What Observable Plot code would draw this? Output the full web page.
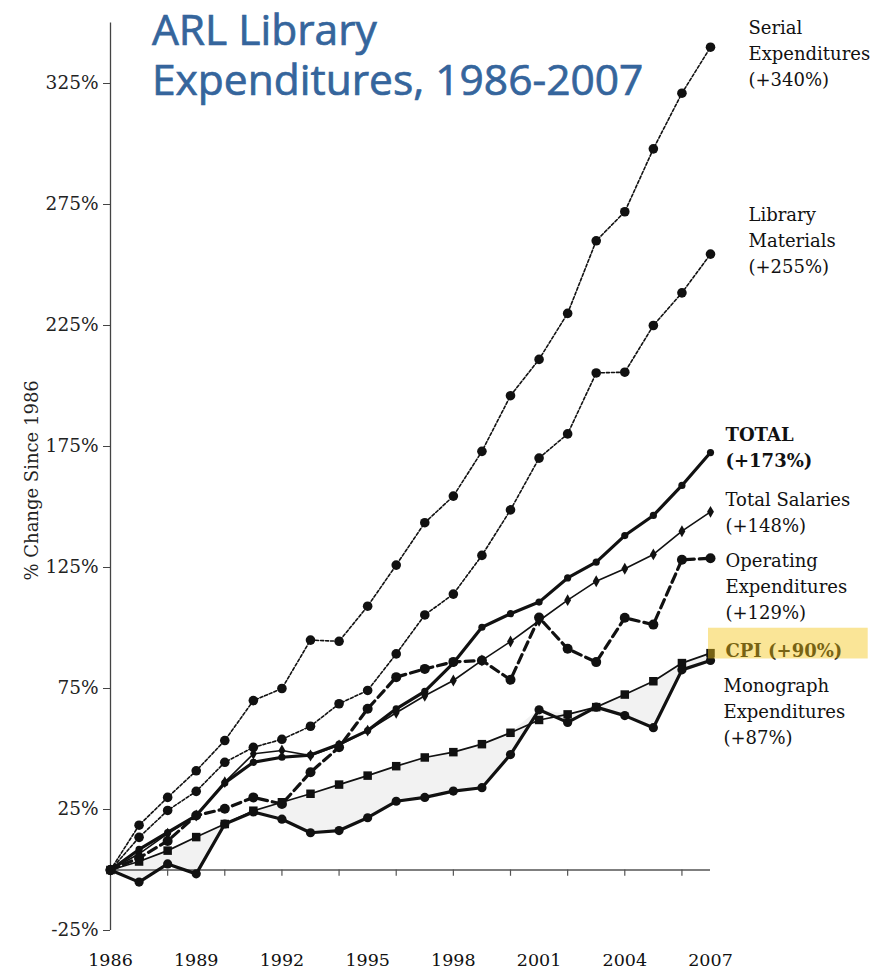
<!DOCTYPE html>
<html><head><meta charset="utf-8">
<script src="https://cdn.jsdelivr.net/npm/d3@7"></script>
<script src="https://cdn.jsdelivr.net/npm/@observablehq/plot@0.6"></script>
<style>
body{margin:0;background:#fff;}
#wrap{position:relative;width:892px;height:975px;}
.title{position:absolute;left:152px;font-family:"Open Sans",sans-serif;font-weight:400;font-size:42.5px;line-height:43px;height:43px;color:#35659c;-webkit-text-stroke:0.7px #35659c;z-index:2;white-space:nowrap;}
#t1{top:7px;}
#t2{top:57px;}
</style></head><body>
<div id="wrap"><div class="title" id="t1">ARL Library</div><div class="title" id="t2">Expenditures, 1986-2007</div></div>
<script>
const years = d3.range(1986, 2008);
const serial     = [0, 18.5, 30, 41, 53.5, 70, 75, 95, 94.5, 109, 126, 143.5, 154.5, 173, 196, 211, 230, 260, 272, 298, 321, 340];
const materials  = [0, 13.5, 24.6, 32.5, 44.5, 50.7, 54, 59.4, 68.7, 74.2, 89.3, 105.4, 114, 130, 148.8, 170.2, 180.2, 205.4, 205.7, 225, 238.5, 254.5];
const total      = [0, 8.5, 15.5, 22.5, 36, 44.5, 46.6, 47.5, 52, 57.6, 66.6, 73.8, 85.5, 100.3, 105.9, 110.7, 120.7, 127.2, 138.2, 146.5, 158.9, 172.5];
const salaries   = [0, 6.7, 15, 22.5, 36.3, 48, 49.4, 47.3, 51.5, 57.6, 65, 72, 78.3, 86.6, 94.4, 103, 111.5, 119.3, 124.5, 130.4, 140, 148];
const operating  = [0, 5, 12, 22.5, 25.3, 30, 27.3, 40.4, 50.7, 66.6, 79.7, 83.1, 86, 86.6, 78.6, 104.3, 91.4, 85.9, 104.2, 101.4, 128.2, 128.8];
const cpi        = [0, 3.5, 8, 13.6, 19, 24.5, 28, 31.5, 35.3, 39, 42.9, 46.5, 48.7, 52, 56.7, 62, 64.3, 67.3, 72.5, 78, 85.5, 89.6];
const monograph  = [0, -5, 2.5, -1.6, 19, 24, 21, 15.4, 16.3, 21.6, 28.4, 30, 32.6, 34, 47.7, 66.2, 61, 67.3, 63.8, 58.8, 82.7, 86.6];

const yTicks = [-25, 25, 75, 125, 175, 225, 275, 325];
const xLabelTicks = [1986, 1989, 1992, 1995, 1998, 2001, 2004, 2007];
const xMinorTicks = [1988, 1990, 1992, 1994, 1996, 1998, 2000, 2002, 2004, 2006];

const seriesNames = ["Serial Expenditures", "Library Materials", "TOTAL", "Total Salaries", "Operating Expenditures", "CPI", "Monograph Expenditures"];
const seriesLabels = ["Serial\nExpenditures\n(+340%)", "Library\nMaterials\n(+255%)", "TOTAL\n(+173%)", "Total Salaries\n(+148%)", "Operating\nExpenditures\n(+129%)", "CPI (+90%)", "Monograph\nExpenditures\n(+87%)"];
const labelY = [338, 261, 175.5, 148.5, 118, 91.5, 66.3];

const values = [serial, materials, total, salaries, operating, cpi, monograph];
const styles = [
  {sw: 1.6, dash: "3,2", symbol: "circle", r: 4.8, ldx: 38, bold: false},
  {sw: 1.6, dash: "3,2", symbol: "circle", r: 4.8, ldx: 38, bold: false},
  {sw: 3.2, dash: null, symbol: "circle", r: 3.6, ldx: 15, bold: true},
  {sw: 1.6, dash: null, symbol: "diamond", r: 3.6, ldx: 15, bold: false},
  {sw: 3.2, dash: "9,5", symbol: "circle", r: 5, ldx: 15, bold: false},
  {sw: 1.7, dash: null, symbol: "square", r: 4.8, ldx: 15, bold: true},
  {sw: 3.2, dash: null, symbol: "circle", r: 4.6, ldx: 13, bold: false}
];

const band = years.map((year, i) => ({year, lo: monograph[i], hi: Math.max(cpi[i], monograph[i])}));

const marks = [];
marks.push(Plot.areaY(band, {x: "year", y1: "lo", y2: "hi", fill: "#f2f2f2", curve: "linear"}));
marks.push(Plot.ruleX([1986], {y1: -25, y2: 350, stroke: "#444", strokeWidth: 1.3}));
marks.push(Plot.ruleY([0], {x1: 1986, x2: 2007, stroke: "#555", strokeWidth: 1.3}));
marks.push(Plot.ruleX(xMinorTicks, {x: d => d, y1: 0, y2: -2.6, stroke: "#555", strokeWidth: 1.2}));
marks.push(Plot.axisY({ticks: yTicks, tickFormat: d => d + "%", tickSize: 7, tickPadding: 5, label: null, fontSize: 18.5, fontFamily: "DejaVu Serif", stroke: "#444", fill: "#222"}));
marks.push(Plot.axisX({ticks: xLabelTicks, tickFormat: d => String(d), tickSize: 0, tickPadding: 23, label: null, fontSize: 17.5, fontFamily: "DejaVu Serif", fill: "#111"}));
marks.push(Plot.text(["% Change Since 1986"], {frameAnchor: "left", y: 161, dx: -78, rotate: -90, textAnchor: "middle", fontSize: 18, fontFamily: "DejaVu Serif", fill: "#222"}));

values.forEach((vals, k) => {
  const s = styles[k];
  const rows = years.map((year, i) => ({year, value: vals[i]}));
  marks.push(Plot.line(rows, {x: "year", y: "value", stroke: "#111", strokeWidth: s.sw, strokeDasharray: s.dash, strokeLinejoin: "round"}));
  marks.push(Plot.dot(rows, {x: "year", y: "value", symbol: () => s.symbol, r: s.r, fill: "#111", stroke: "none"}));
  marks.push(Plot.text([seriesLabels[k]], {x: 2007, y: labelY[k], text: d => d, textAnchor: "start", dx: s.ldx, lineHeight: 1.44, fontSize: 18, fontFamily: "DejaVu Serif", fontWeight: s.bold ? "bold" : "normal", fill: "#111"}));
});

// highlight box over the CPI label
marks.push(Plot.rect([{x1: 2006.93, x2: 2012.52, y1: 87.2, y2: 99.9}], {x1: "x1", x2: "x2", y1: "y1", y2: "y2", fill: "#f5c518", fillOpacity: 0.45}));

const chart = Plot.plot({
  width: 892,
  height: 975,
  marginLeft: 110,
  marginRight: 182,
  marginTop: 83,
  marginBottom: 45,
  x: {domain: [1986, 2007]},
  y: {domain: [-25, 325]},
  style: {fontFamily: "DejaVu Serif", background: "#fff", overflow: "visible"},
  marks
});
document.getElementById("wrap").appendChild(chart);
</script>
</body></html>
